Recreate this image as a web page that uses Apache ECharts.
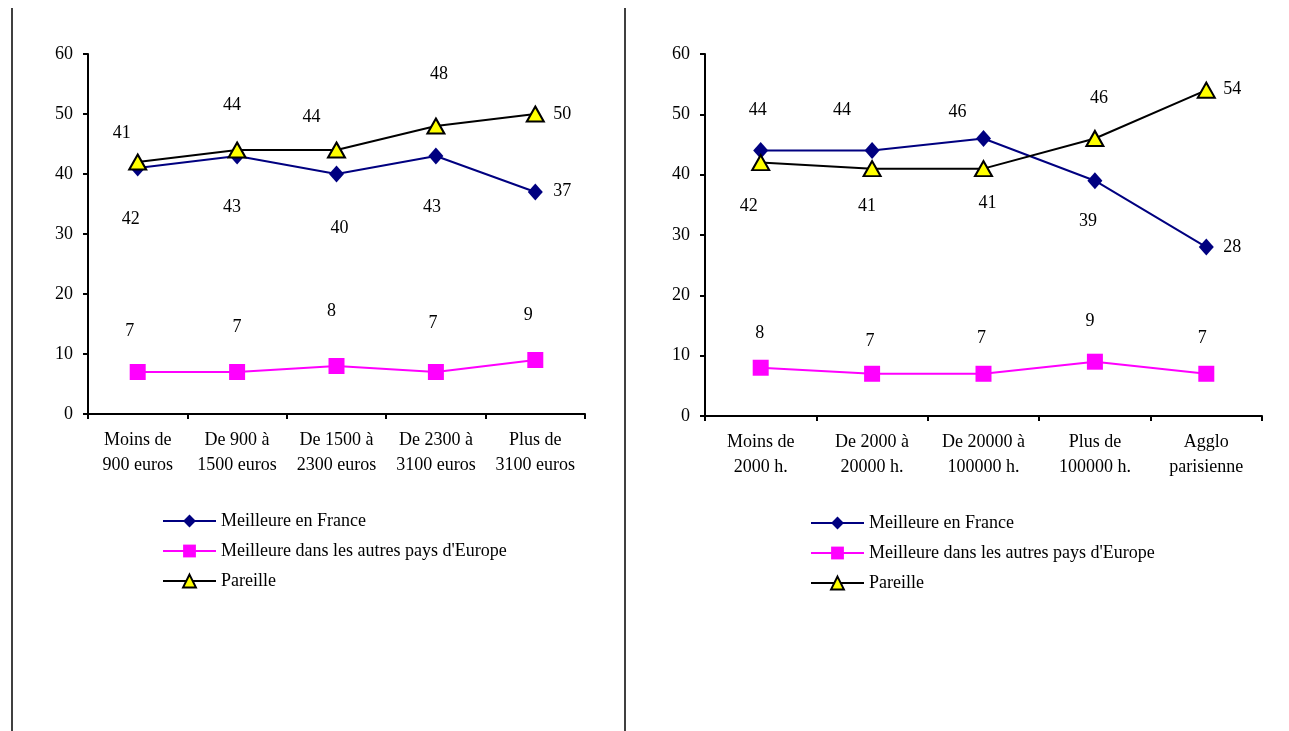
<!DOCTYPE html>
<html><head><meta charset="utf-8">
<script src="https://cdn.jsdelivr.net/npm/echarts@6/dist/echarts.min.js"></script>
<style>html,body{margin:0;padding:0;background:#fff}#c{width:1289px;height:731px}</style>
</head><body><div id="c"></div>
<script>
// ---- data ----
const catsRevenu = ['Moins de\n900 euros', 'De 900 à\n1500 euros', 'De 1500 à\n2300 euros', 'De 2300 à\n3100 euros', 'Plus de\n3100 euros'];
const catsAgglo = ['Moins de\n2000 h.', 'De 2000 à\n20000 h.', 'De 20000 à\n100000 h.', 'Plus de\n100000 h.', 'Agglo\nparisienne'];
const seriesNames = ['Meilleure en France', "Meilleure dans les autres pays d'Europe", 'Pareille'];
const franceRevenu = [41, 43, 40, 43, 37];
const europeRevenu = [7, 7, 8, 7, 9];
const pareilleRevenu = [42, 44, 44, 48, 50];
const franceAgglo = [44, 44, 46, 39, 28];
const europeAgglo = [8, 7, 7, 9, 7];
const pareilleAgglo = [42, 41, 41, 46, 54];
const yTicks = [0, 10, 20, 30, 40, 50, 60];

// ---- label offsets (style) ----
const offFranceL = [[-16,-35],[-5,51],[3,54],[-4,51],[27,-1]];
const offEuropeL = [[-8,-41],[0,-45],[-5,-55],[-3,-49],[-7,-45]];
const offPareilleL = [[-7,57],[-5,-45],[-25,-33],[3,-52],[27,0]];
const offFranceR = [[-3,-40],[-30,-40],[-26,-26],[-7,41],[26,0]];
const offEuropeR = [[-1,-34],[-2,-33],[-2,-36],[-5,-40],[-4,-36]];
const offPareilleR = [[-12,44],[-5,38],[4,35],[4,-40],[26,-1]];

const FONT = 'Liberation Serif';
const FS = 18;

function withLabels(vals, offs) {
  return vals.map((v, i) => ({ value: v, label: { offset: offs[i] } }));
}
const styles = [
  { color: '#000080', symbol: 'diamond', size: [15, 17] },
  { color: '#FF00FF', symbol: 'rect', size: 16 },
  { color: '#000000', symbol: 'triangle', size: [17, 15] }
];
function mkSeries(idx, name, vals, offs, k) {
  const s = styles[k];
  return {
    type: 'line', name: name, xAxisIndex: idx, yAxisIndex: idx,
    data: withLabels(vals, offs),
    symbol: s.symbol, symbolSize: s.size, showAllSymbol: true,
    lineStyle: { color: s.color, width: 2 },
    itemStyle: k === 2 ? { color: '#FFFF00', borderColor: '#000', borderWidth: 2 } : { color: s.color },
    label: { show: true, position: 'inside', color: '#000', fontFamily: FONT, fontSize: FS },
    emphasis: { disabled: true },
    animation: false,
    z: 2 + k
  };
}
function xAx(idx, cats) {
  return {
    type: 'category', gridIndex: idx, data: cats, boundaryGap: true,
    axisLine: { lineStyle: { color: '#000', width: 2 } },
    axisTick: { show: true, length: 5, lineStyle: { color: '#000', width: 2 } },
    axisLabel: { color: '#000', fontFamily: FONT, fontSize: FS, lineHeight: 25, margin: 14, interval: 0 },
    splitLine: { show: false }
  };
}
function yAx(idx) {
  return {
    type: 'value', gridIndex: idx, min: yTicks[0], max: yTicks[yTicks.length - 1], interval: yTicks[1] - yTicks[0],
    axisLine: { show: true, lineStyle: { color: '#000', width: 2 } },
    axisTick: { show: true, length: 5, lineStyle: { color: '#000', width: 2 } },
    axisLabel: { color: '#000', fontFamily: FONT, fontSize: FS, margin: 15 },
    splitLine: { show: false }
  };
}
const legendBase = {
  orient: 'vertical', itemWidth: 53, itemHeight: 16, itemGap: 12,
  textStyle: { color: '#000', fontFamily: FONT, fontSize: FS },
  data: seriesNames, selectedMode: false
};

const chart = echarts.init(document.getElementById('c'), null, { renderer: 'canvas' });
chart.setOption({
  backgroundColor: '#fff',
  animation: false,
  grid: [
    { left: 88, top: 54, width: 497, height: 360 },
    { left: 705, top: 54, width: 557, height: 362 }
  ],
  xAxis: [xAx(0, catsRevenu), xAx(1, catsAgglo)],
  yAxis: [yAx(0), yAx(1)],
  legend: [
    Object.assign({}, legendBase, { left: 157, top: 507 }),
    Object.assign({}, legendBase, { left: 805, top: 509 })
  ],
  series: [
    mkSeries(0, seriesNames[0], franceRevenu, offFranceL, 0),
    mkSeries(0, seriesNames[1], europeRevenu, offEuropeL, 1),
    mkSeries(0, seriesNames[2], pareilleRevenu, offPareilleL, 2),
    mkSeries(1, seriesNames[0], franceAgglo, offFranceR, 0),
    mkSeries(1, seriesNames[1], europeAgglo, offEuropeR, 1),
    mkSeries(1, seriesNames[2], pareilleAgglo, offPareilleR, 2)
  ],
  graphic: [
    { type: 'line', shape: { x1: 12, y1: 8, x2: 12, y2: 731 }, style: { stroke: '#000', lineWidth: 1.5 } },
    { type: 'line', shape: { x1: 625, y1: 8, x2: 625, y2: 731 }, style: { stroke: '#000', lineWidth: 1.5 } }
  ]
});
</script></body></html>
